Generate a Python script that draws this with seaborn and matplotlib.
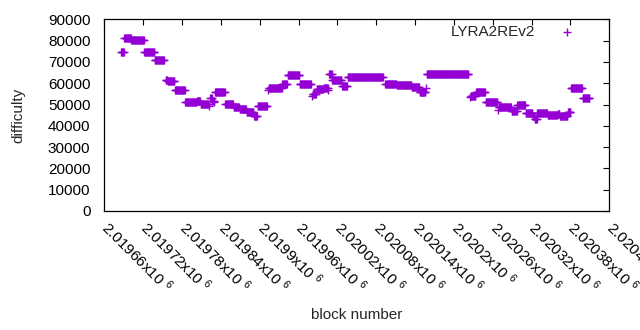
import matplotlib
matplotlib.use("Agg")
import matplotlib.pyplot as plt
from matplotlib.ticker import MultipleLocator, FuncFormatter
from matplotlib.transforms import ScaledTranslation
import seaborn as sns
import numpy as np
import pandas as pd

# difficulty runs: first block, last block, difficulty
seg_start = [2019686, 2019691, 2019702, 2019722, 2019738, 2019755, 2019758, 2019769,
             2019785, 2019803, 2019809, 2019821, 2019824, 2019827, 2019830, 2019831,
             2019847, 2019860, 2019869, 2019880, 2019891, 2019897, 2019913, 2019914,
             2019935, 2019943, 2019962, 2019981, 2019982, 2019988, 2019999, 2020006,
             2020007, 2020012, 2020027, 2020036, 2020094, 2020112, 2020135, 2020147,
             2020157, 2020158, 2020183, 2020225, 2020226, 2020234, 2020249, 2020268,
             2020269, 2020289, 2020298, 2020311, 2020322, 2020325, 2020329, 2020345,
             2020360, 2020364, 2020376, 2020381, 2020399]
seg_end = [2019690, 2019701, 2019721, 2019737, 2019752, 2019757, 2019768, 2019784,
           2019802, 2019808, 2019820, 2019821, 2019826, 2019829, 2019830, 2019846,
           2019859, 2019868, 2019879, 2019890, 2019896, 2019911, 2019913, 2019934,
           2019942, 2019961, 2019979, 2019981, 2019987, 2019998, 2020005, 2020006,
           2020011, 2020026, 2020035, 2020090, 2020111, 2020134, 2020146, 2020156,
           2020157, 2020182, 2020222, 2020225, 2020233, 2020248, 2020267, 2020268,
           2020288, 2020297, 2020310, 2020321, 2020324, 2020328, 2020344, 2020359,
           2020363, 2020375, 2020380, 2020398, 2020409]
seg_diff = [74500, 81000, 80100, 74500, 71000, 61400, 60900, 56800,
            51300, 51800, 50400, 49500, 52900, 51800, 51000, 55700,
            50100, 48700, 48000, 46300, 44750, 49150, 56800, 57900,
            59500, 63700, 59500, 53800, 55000, 57300, 57600, 56600,
            64300, 61350, 58500, 62750, 59770, 59300, 58100, 55700,
            57600, 64460, 64170, 53700, 54150, 55700, 51000, 47400,
            48700, 47100, 49800, 46000, 44500, 43200, 46000, 44900,
            45700, 44450, 46300, 57600, 53200]

blocks = np.concatenate([np.arange(s, e + 1) for s, e in zip(seg_start, seg_end)])
diffs = np.concatenate([np.full(e - s + 1, d) for s, e, d in zip(seg_start, seg_end, seg_diff)])
df = pd.DataFrame({"block": blocks, "difficulty": diffs})

sns.set_theme(style="white")
plt.rcParams["font.family"] = ["Liberation Sans", "DejaVu Sans"]
plt.rcParams["mathtext.fontset"] = "custom"
plt.rcParams["mathtext.rm"] = "Liberation Sans"
plt.rcParams["mathtext.it"] = "Liberation Sans:italic"

fig = plt.figure(figsize=(6.4, 3.3), dpi=100)
ax = fig.add_axes([104.3 / 640, 1 - 211 / 330, 505 / 640, 191.7 / 330])

purple = "#9400D3"
sns.scatterplot(data=df, x="block", y="difficulty", marker="+", color=purple,
                s=32, linewidth=1.0, ax=ax, label="LYRA2REv2")

ax.set_xlim(2019660, 2020440)
ax.set_ylim(0, 90000)
ax.xaxis.set_major_locator(MultipleLocator(60))
ax.yaxis.set_major_locator(MultipleLocator(10000))
ax.xaxis.set_major_formatter(FuncFormatter(lambda v, p: "%.6gx10 $^{6}$" % (v / 1e6)))
ax.yaxis.set_major_formatter(FuncFormatter(lambda v, p: "%d" % v))

ax.tick_params(direction="in", length=4.5, width=0.8, top=True, right=True,
               labelsize=11, colors="black")
ax.tick_params(axis="x", pad=5)
ax.tick_params(axis="y", pad=10)
shift = ScaledTranslation(7 / 100, 0, fig.dpi_scale_trans)
for lab in ax.get_xticklabels():
    lab.set_rotation(-45)
    lab.set_ha("left")
    lab.set_va("top")
    lab.set_rotation_mode("anchor")
    lab.set_transform(lab.get_transform() + shift)

for sp in ax.spines.values():
    sp.set_visible(True)
    sp.set_color("black")
    sp.set_linewidth(0.9)

ax.set_xlabel("block number", fontsize=11, labelpad=9)
ax.set_ylabel("difficulty", fontsize=11, labelpad=16)

leg = ax.legend(loc="upper right", bbox_to_anchor=(582 / 640, 1 - 25 / 330),
                bbox_transform=fig.transFigure, frameon=False, markerfirst=False,
                fontsize=11, borderpad=0, borderaxespad=0, handletextpad=1.1,
                handlelength=2.0)

fig.savefig("out.png", dpi=100)
